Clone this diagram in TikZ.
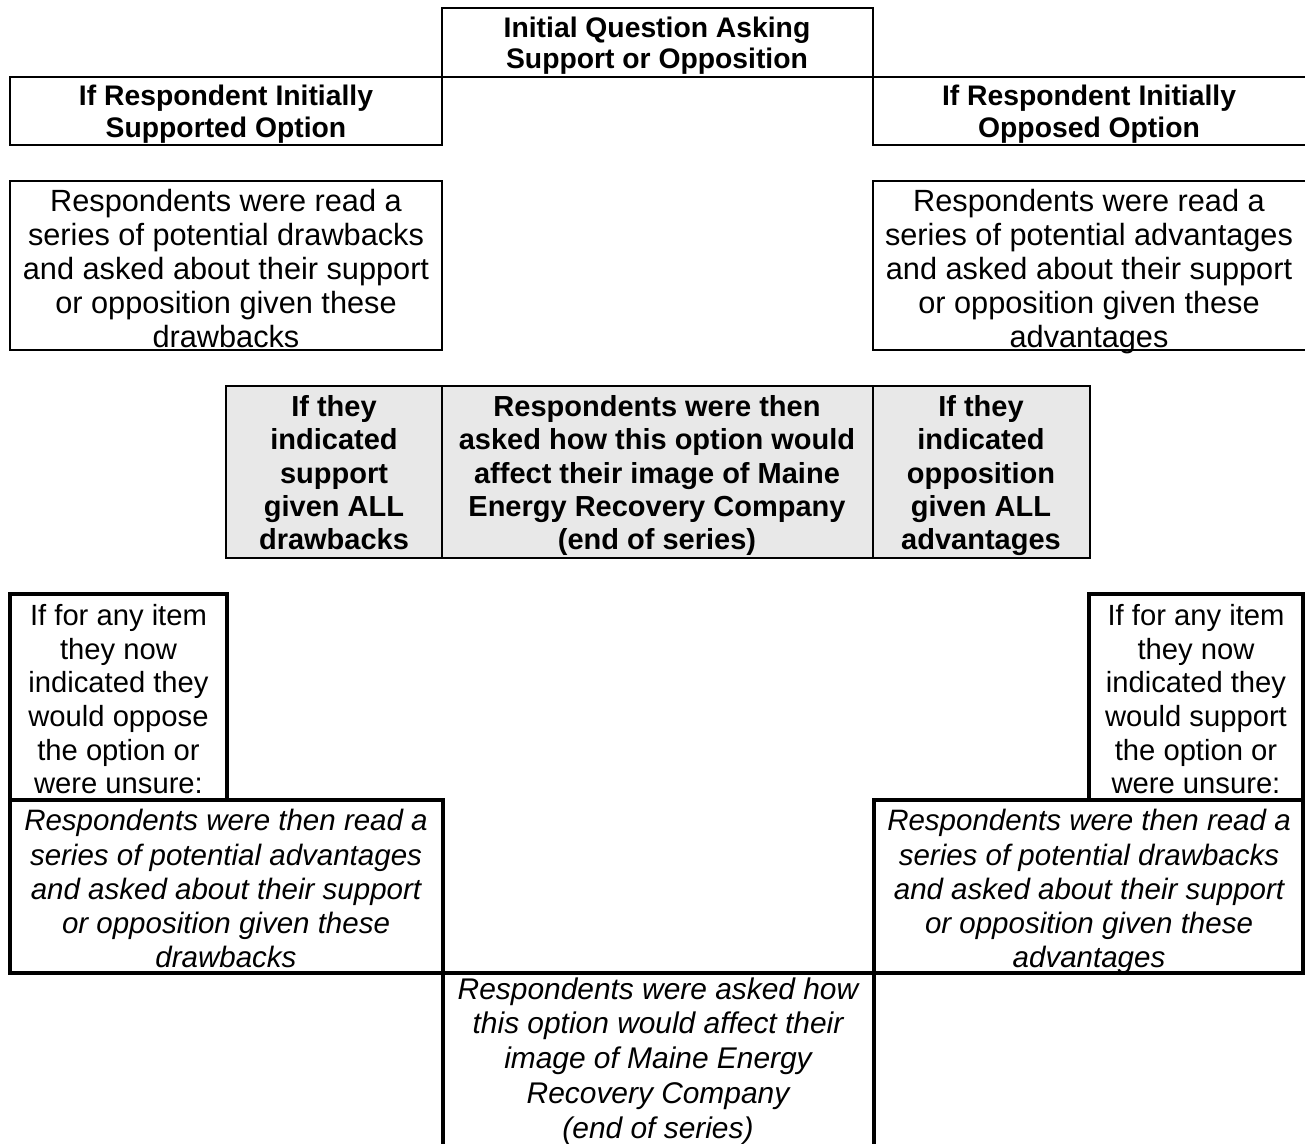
\documentclass[tikz,border=0pt]{standalone}
\usepackage{fontspec}
\setmainfont{Liberation Sans}
\begin{document}
\begin{tikzpicture}[x=1pt,y=-1pt,
  thinln/.style={line width=2pt, line cap=rect},
  thickln/.style={line width=3.5pt, line cap=rect},
  tb/.style={inner sep=0pt, align=center, anchor=north},
  hdr/.style={tb, font=\fontsize{28.3}{31.5}\selectfont\bfseries},
  txt/.style={tb, font=\fontsize{30.7}{34}\selectfont},
  gry/.style={tb, font=\fontsize{29}{33.25}\selectfont\bfseries},
  sml/.style={tb, font=\fontsize{29.2}{33.6}\selectfont},
  itx/.style={tb, font=\fontsize{29.5}{34.2}\selectfont\itshape},
  itb/.style={tb, font=\fontsize{29.9}{34.75}\selectfont\itshape}]
\fill[white] (0,0) rectangle (1305,1143);
\useasboundingbox (0,0) rectangle (1305,1143);

% ---- top part (thin lines)
\draw[thinln] (442,145) -- (442,8) -- (873,8) -- (873,145);
\draw[thinln] (10,77) -- (1305,77);
\draw[thinln] (10,77) -- (10,145) -- (442,145);
\draw[thinln] (873,145) -- (1305,145);
\draw[thinln] (10,181) rectangle (442,350);
\draw[thinln] (1305,181) -- (873,181) -- (873,350) -- (1305,350);

% gray table
\fill[gray!18] (226,386) rectangle (1090,558);
\draw[thinln] (226,386) rectangle (1090,558);
\draw[thinln] (442,386) -- (442,558);
\draw[thinln] (873,386) -- (873,558);

% ---- bottom part (thick lines)
\draw[thickln] (10,594) rectangle (227,800);
\draw[thickln] (10,800) rectangle (443,973);
\draw[thickln] (1089,594) rectangle (1303,800);
\draw[thickln] (874,800) rectangle (1303,973);
\draw[thickln] (10,973) -- (1303,973);
\draw[thickln] (443,973) -- (443,1143);
\draw[thickln] (874,973) -- (874,1143);

% ---- texts
\node[hdr] (q) at (657,14.9) {\strut Initial Question Asking\\Support or Opposition\strut};
\node[hdr] (hs) at (226,83.5) {\strut If Respondent Initially\\Supported Option\strut};
\node[hdr] (ho) at (1089,83.5) {\strut If Respondent Initially\\Opposed Option\strut};
\node[txt] (d1) at (226,187.2) {\strut Respondents were read a\\series of potential drawbacks\\and asked about their support\\or opposition given these\\drawbacks\strut};
\node[txt] (a1) at (1089,187.2) {\strut Respondents were read a\\series of potential advantages\\and asked about their support\\or opposition given these\\advantages\strut};
\node[gry] (g1) at (334,393.1) {\strut If they\\indicated\\support\\given ALL\\drawbacks\strut};
\node[gry] (g2) at (657,393.1) {\strut Respondents were then\\asked how this option would\\affect their image of Maine\\Energy Recovery Company\\(end of series)\strut};
\node[gry] (g3) at (981,393.1) {\strut If they\\indicated\\opposition\\given ALL\\advantages\strut};
\node[sml] (fl) at (118.5,602) {\strut If for any item\\they now\\indicated they\\would oppose\\the option or\\were unsure:\strut};
\node[sml] (fr) at (1196,602) {\strut If for any item\\they now\\indicated they\\would support\\the option or\\were unsure:\strut};
\node[itx] (il) at (226,806.7) {\strut Respondents were then read a\\series of potential advantages\\and asked about their support\\or opposition given these\\drawbacks\strut};
\node[itx] (ir) at (1089,806.7) {\strut Respondents were then read a\\series of potential drawbacks\\and asked about their support\\or opposition given these\\advantages\strut};
\node[itb] (bc) at (658,974.5) {\strut Respondents were asked how\\this option would affect their\\image of Maine Energy\\Recovery Company\\(end of series)\strut};
\end{tikzpicture}
\end{document}
